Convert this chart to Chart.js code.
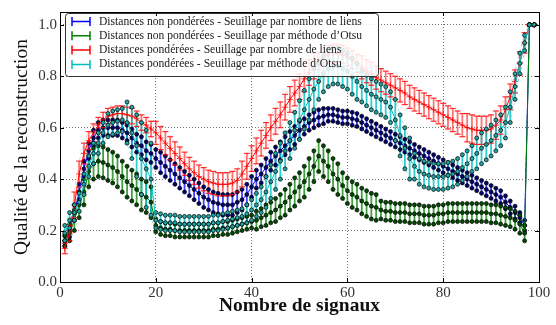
<!DOCTYPE html>
<html lang="fr">
<head>
  <meta charset="UTF-8">
  <title>Qualité de la reconstruction</title>
  <script src="https://cdn.jsdelivr.net/npm/chart.js@4"></script>
  <style>
    html, body { margin: 0; padding: 0; background: #fff; }
    .chart-container { width: 556px; height: 325px; }
  </style>
</head>
<body>
  <div class="chart-container">
    <canvas id="chartQualite" width="556" height="325"></canvas>
  </div>

  <script>
    // Nombre de signaux (axe x)
    const nbSignaux = [1, 2, 3, 4, 5, 6, 7, 8, 9, 10, 11, 12, 13, 14, 15, 16, 17, 18, 19, 20,
      21, 22, 23, 24, 25, 26, 27, 28, 29, 30, 31, 32, 33, 34, 35, 36, 37, 38, 39, 40,
      41, 42, 43, 44, 45, 46, 47, 48, 49, 50, 51, 52, 53, 54, 55, 56, 57, 58, 59, 60,
      61, 62, 63, 64, 65, 66, 67, 68, 69, 70, 71, 72, 73, 74, 75, 76, 77, 78, 79, 80,
      81, 82, 83, 84, 85, 86, 87, 88, 89, 90, 91, 92, 93, 94, 95, 96, 97, 98, 99];

    const xTicks = [0, 20, 40, 60, 80, 100];
    const yTicks = [0.0, 0.2, 0.4, 0.6, 0.8, 1.0];

    const labels = [
      'Distances non pondérées - Seuillage par nombre de liens',
      'Distances non pondérées - Seuillage par méthode d\u2019Otsu',
      'Distances pondérées - Seuillage par nombre de liens',
      'Distances pondérées - Seuillage par méthode d\u2019Otsu'
    ];

    // non pondérées, nombre de liens
    const blueMean = [0.16, 0.20, 0.27, 0.35, 0.44, 0.51, 0.56, 0.59, 0.60, 0.60,
      0.60, 0.60, 0.59, 0.58, 0.56, 0.54, 0.53, 0.51, 0.50, 0.48,
      0.465, 0.45, 0.435, 0.42, 0.405, 0.39, 0.375, 0.36, 0.345, 0.33,
      0.32, 0.31, 0.305, 0.30, 0.30, 0.30, 0.31, 0.32, 0.34, 0.37,
      0.40, 0.42, 0.445, 0.47, 0.49, 0.51, 0.53, 0.55, 0.57, 0.59,
      0.605, 0.62, 0.63, 0.64, 0.645, 0.65, 0.65, 0.645, 0.64, 0.64,
      0.635, 0.63, 0.62, 0.61, 0.60, 0.59, 0.58, 0.57, 0.56, 0.55,
      0.54, 0.53, 0.52, 0.51, 0.50, 0.49, 0.48, 0.47, 0.46, 0.45,
      0.44, 0.43, 0.42, 0.41, 0.40, 0.39, 0.38, 0.37, 0.36, 0.35,
      0.34, 0.33, 0.31, 0.29, 0.27, 0.25, 0.22, 1.0, 1.0];
    const blueErr = [0.02, 0.025, 0.03, 0.03, 0.03, 0.03, 0.03, 0.03, 0.03, 0.03,
      0.03, 0.03, 0.03, 0.03, 0.035, 0.035, 0.035, 0.035, 0.035, 0.035,
      0.04, 0.04, 0.04, 0.04, 0.04, 0.04, 0.04, 0.04, 0.04, 0.04,
      0.04, 0.04, 0.04, 0.04, 0.04, 0.04, 0.04, 0.04, 0.04, 0.04,
      0.035, 0.035, 0.035, 0.035, 0.035, 0.035, 0.035, 0.035, 0.035, 0.035,
      0.03, 0.03, 0.03, 0.03, 0.03, 0.025, 0.025, 0.025, 0.025, 0.025,
      0.025, 0.025, 0.025, 0.025, 0.025, 0.025, 0.025, 0.025, 0.025, 0.025,
      0.025, 0.025, 0.025, 0.025, 0.025, 0.025, 0.025, 0.025, 0.025, 0.025,
      0.025, 0.025, 0.025, 0.025, 0.025, 0.025, 0.025, 0.025, 0.025, 0.025,
      0.025, 0.025, 0.025, 0.025, 0.025, 0.02, 0.02, 0, 0];

    // non pondérées, Otsu
    const greenMean = [0.16, 0.19, 0.24, 0.30, 0.35, 0.43, 0.46, 0.47, 0.465, 0.455,
      0.445, 0.43, 0.41, 0.39, 0.375, 0.36, 0.34, 0.33, 0.31, 0.22,
      0.21, 0.205, 0.205, 0.20, 0.20, 0.20, 0.20, 0.20, 0.20, 0.20,
      0.20, 0.205, 0.205, 0.21, 0.21, 0.215, 0.22, 0.225, 0.23, 0.235,
      0.24, 0.25, 0.26, 0.27, 0.28, 0.295, 0.31, 0.33, 0.35, 0.37,
      0.39, 0.42, 0.45, 0.49, 0.47, 0.45, 0.42, 0.40, 0.375, 0.355,
      0.34, 0.33, 0.315, 0.305, 0.295, 0.29, 0.28, 0.275, 0.275, 0.27,
      0.27, 0.27, 0.265, 0.265, 0.265, 0.26, 0.26, 0.26, 0.265, 0.265,
      0.27, 0.27, 0.27, 0.27, 0.27, 0.27, 0.27, 0.27, 0.27, 0.265,
      0.265, 0.26, 0.255, 0.25, 0.24, 0.225, 0.19, 1.0, 1.0];
    const greenErr = [0.02, 0.03, 0.04, 0.05, 0.05, 0.06, 0.06, 0.06, 0.06, 0.06,
      0.06, 0.06, 0.06, 0.06, 0.06, 0.06, 0.06, 0.06, 0.06, 0.025,
      0.025, 0.025, 0.025, 0.025, 0.025, 0.025, 0.025, 0.025, 0.025, 0.025,
      0.025, 0.025, 0.025, 0.025, 0.025, 0.025, 0.025, 0.025, 0.025, 0.025,
      0.035, 0.035, 0.04, 0.04, 0.045, 0.045, 0.05, 0.05, 0.055, 0.055,
      0.06, 0.06, 0.06, 0.06, 0.06, 0.06, 0.06, 0.06, 0.05, 0.05,
      0.05, 0.05, 0.05, 0.05, 0.05, 0.05, 0.035, 0.035, 0.035, 0.035,
      0.035, 0.035, 0.035, 0.035, 0.035, 0.035, 0.035, 0.035, 0.035, 0.035,
      0.035, 0.035, 0.035, 0.035, 0.035, 0.035, 0.035, 0.035, 0.035, 0.035,
      0.035, 0.035, 0.035, 0.035, 0.035, 0.035, 0.03, 0, 0];

    // pondérées, nombre de liens
    const redMean = [0.13, 0.19, 0.30, 0.42, 0.50, 0.55, 0.58, 0.61, 0.63, 0.645,
      0.65, 0.655, 0.655, 0.65, 0.645, 0.635, 0.62, 0.61, 0.595, 0.58,
      0.56, 0.54, 0.52, 0.50, 0.48, 0.46, 0.44, 0.425, 0.41, 0.40,
      0.39, 0.385, 0.38, 0.38, 0.38, 0.385, 0.395, 0.42, 0.45, 0.48,
      0.51, 0.54, 0.57, 0.60, 0.625, 0.65, 0.68, 0.71, 0.735, 0.76,
      0.79, 0.815, 0.84, 0.86, 0.875, 0.885, 0.89, 0.89, 0.885, 0.875,
      0.865, 0.85, 0.835, 0.82, 0.81, 0.795, 0.785, 0.775, 0.765, 0.755,
      0.745, 0.735, 0.72, 0.71, 0.70, 0.69, 0.68, 0.67, 0.66, 0.65,
      0.64, 0.63, 0.62, 0.61, 0.60, 0.595, 0.59, 0.59, 0.59, 0.595,
      0.61, 0.63, 0.67, 0.72, 0.78, 0.85, 0.93, 1.0, 1.0];
    const redErr = [0.02, 0.03, 0.05, 0.05, 0.04, 0.035, 0.035, 0.03, 0.03, 0.03,
      0.03, 0.03, 0.03, 0.03, 0.03, 0.03, 0.03, 0.03, 0.03, 0.045,
      0.045, 0.045, 0.045, 0.045, 0.045, 0.045, 0.045, 0.045, 0.045, 0.045,
      0.045, 0.045, 0.045, 0.045, 0.045, 0.045, 0.045, 0.05, 0.05, 0.05,
      0.05, 0.05, 0.05, 0.05, 0.05, 0.05, 0.05, 0.05, 0.05, 0.05,
      0.05, 0.05, 0.05, 0.035, 0.035, 0.035, 0.035, 0.035, 0.035, 0.035,
      0.035, 0.035, 0.045, 0.045, 0.045, 0.045, 0.045, 0.045, 0.045, 0.045,
      0.045, 0.045, 0.045, 0.045, 0.045, 0.045, 0.045, 0.045, 0.045, 0.045,
      0.045, 0.045, 0.045, 0.045, 0.055, 0.055, 0.055, 0.055, 0.055, 0.055,
      0.055, 0.055, 0.05, 0.05, 0.045, 0.045, 0.04, 0, 0];

    // pondérées, Otsu
    const cyanMean = [0.19, 0.24, 0.27, 0.31, 0.38, 0.45, 0.50, 0.54, 0.58, 0.61,
      0.62, 0.625, 0.63, 0.62, 0.58, 0.53, 0.48, 0.44, 0.40, 0.24,
      0.235, 0.23, 0.23, 0.23, 0.225, 0.225, 0.225, 0.225, 0.225, 0.225,
      0.225, 0.23, 0.23, 0.235, 0.24, 0.245, 0.25, 0.255, 0.265, 0.28,
      0.30, 0.32, 0.35, 0.39, 0.43, 0.47, 0.51, 0.55, 0.59, 0.63,
      0.67, 0.71, 0.75, 0.78, 0.81, 0.83, 0.84, 0.84, 0.83, 0.82,
      0.80, 0.78, 0.76, 0.745, 0.73, 0.72, 0.71, 0.70, 0.68, 0.63,
      0.57, 0.52, 0.48, 0.45, 0.43, 0.42, 0.415, 0.41, 0.41, 0.41,
      0.415, 0.42, 0.43, 0.445, 0.46, 0.48, 0.50, 0.52, 0.535, 0.55,
      0.57, 0.59, 0.62, 0.68, 0.76, 0.85, 0.93, 1.0, 1.0];
    const cyanErr = [0.03, 0.03, 0.03, 0.035, 0.04, 0.04, 0.04, 0.04, 0.04, 0.045,
      0.045, 0.045, 0.045, 0.08, 0.10, 0.12, 0.14, 0.15, 0.14, 0.03,
      0.03, 0.03, 0.03, 0.03, 0.03, 0.03, 0.03, 0.03, 0.03, 0.03,
      0.03, 0.03, 0.03, 0.03, 0.03, 0.03, 0.03, 0.03, 0.035, 0.04,
      0.045, 0.05, 0.06, 0.065, 0.07, 0.07, 0.07, 0.07, 0.07, 0.075,
      0.075, 0.08, 0.08, 0.07, 0.07, 0.07, 0.07, 0.07, 0.07, 0.07,
      0.07, 0.07, 0.06, 0.06, 0.06, 0.06, 0.06, 0.06, 0.06, 0.08,
      0.08, 0.08, 0.08, 0.05, 0.05, 0.05, 0.05, 0.05, 0.05, 0.05,
      0.05, 0.05, 0.05, 0.05, 0.05, 0.05, 0.06, 0.06, 0.06, 0.06,
      0.06, 0.06, 0.06, 0.06, 0.05, 0.04, 0.03, 0, 0];

    const FONT = "'Liberation Serif', 'Times New Roman', serif";

    const series = [
      { mean: blueMean, err: blueErr, line: '#0000ff', bar: 'rgba(0,0,255,0.75)', env: 'rgba(0,0,255,0.25)', marker: '#000070', order: 3 },
      { mean: greenMean, err: greenErr, line: '#008000', bar: 'rgba(0,128,0,0.75)', env: 'rgba(0,128,0,0.35)', marker: '#004d00', order: 2 },
      { mean: redMean, err: redErr, line: '#ff0000', bar: 'rgba(255,0,0,0.55)', env: 'rgba(255,60,60,0.35)', marker: null, order: 1 },
      { mean: cyanMean, err: cyanErr, line: '#00bfbf', bar: 'rgba(0,191,191,0.8)', env: 'rgba(0,191,191,0.45)', marker: '#22a5a5', order: 0 }
    ];

    const toPoints = vals => nbSignaux.map((x, i) => ({ x: x, y: vals[i] }));

    const datasets = [];
    series.forEach((s, k) => {
      const hi = s.mean.map((m, i) => +(m + s.err[i]).toFixed(3));
      const lo = s.mean.map((m, i) => +(m - s.err[i]).toFixed(3));
      const isRed = s.marker === null;
      const pointOpts = isRed
        ? { pointStyle: 'cross', pointRadius: 3, pointBorderColor: 'rgba(255,0,0,0.75)', pointBorderWidth: 1 }
        : { pointStyle: 'circle', pointRadius: 2, pointBackgroundColor: s.marker, pointBorderColor: '#000', pointBorderWidth: 0.7 };
      datasets.push(Object.assign({
        label: labels[k], data: toPoints(s.mean), borderColor: s.line, borderWidth: 1,
        order: s.order
      }, pointOpts));
      [hi, lo].forEach(vals => {
        const capOpts = isRed
          ? { pointStyle: 'line', pointRadius: 3, pointBorderColor: 'rgba(255,0,0,0.8)', pointBorderWidth: 1.2 }
          : pointOpts;
        datasets.push(Object.assign({
          label: labels[k] + ' (écart)', data: toPoints(vals), borderColor: s.env,
          borderWidth: 0.8, borderDash: [3, 3], order: s.order
        }, capOpts));
      });
    });

    // barres d'erreur verticales
    const errorBars = {
      id: 'errorBars',
      beforeDatasetsDraw(chart) {
        const { ctx, chartArea, scales: { x, y } } = chart;
        ctx.save();
        ctx.beginPath();
        ctx.rect(chartArea.left, chartArea.top, chartArea.right - chartArea.left, chartArea.bottom - chartArea.top);
        ctx.clip();
        series.forEach(s => {
          ctx.strokeStyle = s.bar;
          ctx.lineWidth = 1.8;
          ctx.beginPath();
          nbSignaux.forEach((xv, i) => {
            if (!s.err[i]) return;
            const px = x.getPixelForValue(xv);
            ctx.moveTo(px, y.getPixelForValue(s.mean[i] - s.err[i]));
            ctx.lineTo(px, y.getPixelForValue(s.mean[i] + s.err[i]));
          });
          ctx.stroke();
        });
        ctx.restore();
      }
    };

    // légende encadrée en haut à gauche
    const legendBox = {
      id: 'legendBox',
      afterDatasetsDraw(chart) {
        const ctx = chart.ctx;
        const bx = 65, by = 13, bw = 313, bh = 63;
        ctx.save();
        ctx.fillStyle = 'rgba(255,255,255,0.85)';
        ctx.strokeStyle = '#333';
        ctx.lineWidth = 1;
        ctx.beginPath();
        ctx.roundRect(bx + 0.5, by + 0.5, bw, bh, 3);
        ctx.fill();
        ctx.stroke();
        ctx.font = '11.6px ' + FONT;
        ctx.textBaseline = 'middle';
        series.forEach((s, k) => {
          const cy = by + 8.5 + k * 14.3;
          ctx.strokeStyle = s.line;
          ctx.lineWidth = 1.5;
          ctx.beginPath();
          ctx.moveTo(72, cy); ctx.lineTo(90, cy);
          ctx.moveTo(72, cy - 4.5); ctx.lineTo(72, cy + 4.5);
          ctx.moveTo(90, cy - 4.5); ctx.lineTo(90, cy + 4.5);
          ctx.stroke();
          ctx.fillStyle = '#222';
          ctx.fillText(labels[k], 99, cy);
        });
        ctx.restore();
      }
    };

    // cadre complet et petites graduations intérieures
    const frame = {
      id: 'frame',
      afterDraw(chart) {
        const { ctx, chartArea: a, scales: { x, y } } = chart;
        ctx.save();
        ctx.strokeStyle = '#000';
        ctx.lineWidth = 1;
        ctx.beginPath();
        xTicks.forEach(v => {
          const px = Math.round(x.getPixelForValue(v)) + 0.5;
          ctx.moveTo(px, a.bottom); ctx.lineTo(px, a.bottom - 4);
          ctx.moveTo(px, a.top); ctx.lineTo(px, a.top + 4);
        });
        yTicks.forEach(v => {
          const py = Math.round(y.getPixelForValue(v)) + 0.5;
          ctx.moveTo(a.left, py); ctx.lineTo(a.left + 4, py);
          ctx.moveTo(a.right, py); ctx.lineTo(a.right - 4, py);
        });
        ctx.stroke();
        ctx.strokeRect(Math.round(a.left) + 0.5, Math.round(a.top) + 0.5,
          Math.round(a.right - a.left), Math.round(a.bottom - a.top));
        ctx.restore();
      }
    };

    new Chart(document.getElementById('chartQualite').getContext('2d'), {
      type: 'line',
      data: { datasets: datasets },
      plugins: [errorBars, legendBox, frame],
      options: {
        responsive: false,
        animation: false,
        events: [],
        layout: { padding: { top: 8, right: 17, left: 0, bottom: 0 } },
        plugins: { legend: { display: false }, tooltip: { enabled: false } },
        scales: {
          x: {
            type: 'linear', min: 0, max: 100,
            afterBuildTicks: scale => { scale.ticks = xTicks.map(v => ({ value: v })); },
            afterFit: scale => { scale.height = 43; },
            grid: { color: 'rgba(0,0,0,0.55)', drawTicks: false },
            border: { display: false, dash: [1, 2] },
            ticks: { padding: 2, color: '#333', font: { family: FONT, size: 15 }, maxRotation: 0 },
            title: { display: true, text: 'Nombre de signaux', color: '#111',
              font: { family: FONT, size: 19.5, weight: 'bold' }, padding: { top: 0, bottom: 7 } }
          },
          y: {
            min: 0, max: 1.05,
            afterBuildTicks: scale => { scale.ticks = yTicks.map(v => ({ value: v })); },
            afterFit: scale => { scale.width = 60; },
            grid: { color: 'rgba(0,0,0,0.55)', drawTicks: false },
            border: { display: false, dash: [1, 2] },
            ticks: { padding: 3, color: '#333', font: { family: FONT, size: 15 },
              callback: v => v.toFixed(1) },
            title: { display: true, text: 'Qualité de la reconstruction', color: '#111',
              font: { family: FONT, size: 19.5 }, padding: { top: 10, bottom: 0 } }
          }
        }
      }
    });
  </script>
</body>

</html>
